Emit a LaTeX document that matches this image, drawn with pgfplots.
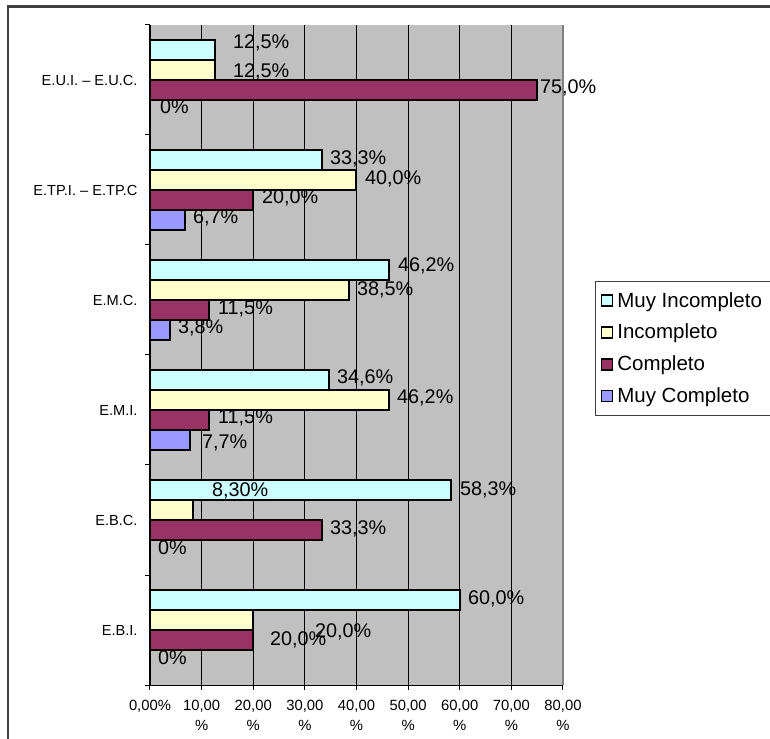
\documentclass[border=0pt]{standalone}
\usepackage{pgfplots}
\pgfplotsset{compat=1.18}
\usepackage{fontspec}
\setmainfont{Liberation Sans}
\definecolor{cMI}{HTML}{CCFFFF}
\definecolor{cI}{HTML}{FFFFCC}
\definecolor{cC}{HTML}{993366}
\definecolor{cMC}{HTML}{9999FF}
\definecolor{bgG}{HTML}{C0C0C0}
\pgfplotsset{
  mybar/.style={xbar, bar width=0.1818, draw=black, line width=2pt,
    legend image code/.code={\draw[##1,/tikz/.cd,line width=1.8pt] (0pt,-5.5pt) rectangle (11pt,5.5pt);}},
  mylab/.style={forget plot, draw=none, mark=none, point meta=explicit symbolic,
    nodes near coords={\pgfplotspointmeta\%},
    every node near coord/.append style={anchor=west, inner sep=0pt, text=black,
      font=\fontsize{19.8}{21}\selectfont, text height=0.72em, text depth=0pt}},
}
\begin{document}
\begin{tikzpicture}[x=1pt,y=1pt]
\useasboundingbox (-150,-53) rectangle (620,685);
\fill[white] (-150,-53) rectangle (620,685);
\draw[line width=2.2pt, black!75] (-142,-70) -- (-142,678.5) -- (640,678.5);
\begin{axis}[
  at={(0,0)}, anchor=south west,
  scale only axis, width=413pt, height=660pt,
  xmin=0, xmax=80, ymin=-0.5, ymax=5.5,
  clip=false,
  axis background/.style={fill=bgG},
  axis x line*=bottom, axis y line*=left,
  axis line style={black, line width=1pt},
  tick align=outside, major tick length=5pt,
  tick style={black, line width=1pt},
  xtick={0,10,...,80},
  xticklabels={{0,00\%},{10,00\\\%},{20,00\\\%},{30,00\\\%},{40,00\\\%},{50,00\\\%},{60,00\\\%},{70,00\\\%},{80,00\\\%}},
  xticklabel style={align=center, font=\fontsize{14.8}{19.5}\selectfont, anchor=north, yshift=-7pt},
  xmajorgrids, grid style={black, line width=0.75pt},
  ytick={-0.5,0.5,...,5.5}, yticklabels={},
  extra y ticks={0,1,2,3,4,5},
  extra y tick labels={E.B.I.,E.B.C.,E.M.I.,E.M.C.,E.TP.I. – E.TP.C,E.U.I. – E.U.C.},
  extra y tick style={major tick length=0pt},
  yticklabel style={font=\fontsize{14.6}{16}\selectfont, anchor=east, xshift=-9pt},
  legend style={at={(rel axis cs:1.0775,0.6125)}, anchor=north west,
    draw=black!75, line width=1pt, fill=white,
    font=\fontsize{20.5}{23}\selectfont, row sep=11.5pt, column sep=2pt,
    inner xsep=5pt, inner ysep=9pt},
  legend cell align=left,
]
% Muy Incompleto
\addplot[mybar, bar shift=0.2727, fill=cMI] coordinates {(60,0) (58.3,1) (34.6,2) (46.2,3) (33.3,4) (12.5,5)};
\addlegendentry{Muy Incompleto\rule{16pt}{0pt}}
\addplot[mylab] table[meta=l] {
x y l
61.6 0.264 60,0
60.05 1.2545 58,3
36.22 2.2727 34,6
48.04 3.291 46,2
34.87 4.2636 33,3
16.08 5.318 12,5
};
% Incompleto
\addplot[mybar, bar shift=0.0909, fill=cI] coordinates {(20,0) (8.3,1) (46.2,2) (38.5,3) (40.0,4) (12.5,5)};
\addlegendentry{Incompleto}
\addplot[mylab] table[meta=l] {
x y l
31.96 -0.036 20,0
12.01 1.245 8,30
47.85 2.091 46,2
40.10 3.073 38,5
41.65 4.082 40,0
16.08 5.055 12,5
};
% Completo
\addplot[mybar, bar shift=-0.0909, fill=cC] coordinates {(20,0) (33.3,1) (11.5,2) (11.5,3) (20.0,4) (75.0,5)};
\addlegendentry{Completo}
\addplot[mylab] table[meta=l] {
x y l
23.24 -0.109 20,0
34.87 0.9 33,3
13.17 1.909 11,5
13.17 2.9 11,5
21.69 3.909 20,0
75.54 4.909 75,0
};
% Muy Completo
\addplot[mybar, bar shift=-0.2727, fill=cMC] coordinates {(0,0) (0,1) (7.7,2) (3.8,3) (6.7,4) (0,5)};
\addlegendentry{Muy Completo}
\addplot[mylab] table[meta=l] {
x y l
1.55 -0.282 0
1.55 0.718 0
10.07 1.682 7,7
5.42 2.727 3,8
8.33 3.727 6,7
1.94 4.727 0
};
\draw[black!50, line width=1.2pt] (rel axis cs:1,0) -- (rel axis cs:1,1);
\end{axis}
\end{tikzpicture}
\end{document}
